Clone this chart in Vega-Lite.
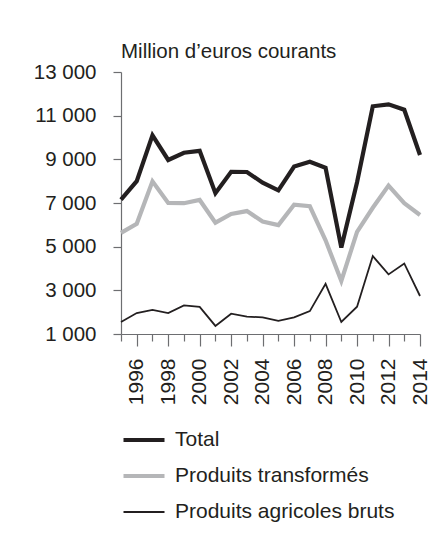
{
  "$schema": "https://vega.github.io/schema/vega-lite/v6.json",
  "autosize": "none",
  "width": 299,
  "height": 262,
  "padding": {"left": 121, "top": 72, "right": 21, "bottom": 205},
  "background": "white",
  "title": {
    "text": "Million d’euros courants",
    "anchor": "start",
    "frame": "group",
    "font": "Liberation Sans",
    "fontSize": 20.5,
    "fontWeight": "normal",
    "color": "#231f20",
    "offset": 0
  },
  "data": {
    "values": [
      {"annee": 1995, "serie": "Produits agricoles bruts", "valeur": 1550},
      {"annee": 1996, "serie": "Produits agricoles bruts", "valeur": 1960},
      {"annee": 1997, "serie": "Produits agricoles bruts", "valeur": 2100},
      {"annee": 1998, "serie": "Produits agricoles bruts", "valeur": 1960},
      {"annee": 1999, "serie": "Produits agricoles bruts", "valeur": 2310},
      {"annee": 2000, "serie": "Produits agricoles bruts", "valeur": 2240},
      {"annee": 2001, "serie": "Produits agricoles bruts", "valeur": 1370},
      {"annee": 2002, "serie": "Produits agricoles bruts", "valeur": 1930},
      {"annee": 2003, "serie": "Produits agricoles bruts", "valeur": 1800},
      {"annee": 2004, "serie": "Produits agricoles bruts", "valeur": 1760},
      {"annee": 2005, "serie": "Produits agricoles bruts", "valeur": 1600},
      {"annee": 2006, "serie": "Produits agricoles bruts", "valeur": 1760},
      {"annee": 2007, "serie": "Produits agricoles bruts", "valeur": 2050},
      {"annee": 2008, "serie": "Produits agricoles bruts", "valeur": 3300},
      {"annee": 2009, "serie": "Produits agricoles bruts", "valeur": 1550},
      {"annee": 2010, "serie": "Produits agricoles bruts", "valeur": 2250},
      {"annee": 2011, "serie": "Produits agricoles bruts", "valeur": 4570},
      {"annee": 2012, "serie": "Produits agricoles bruts", "valeur": 3730},
      {"annee": 2013, "serie": "Produits agricoles bruts", "valeur": 4230},
      {"annee": 2014, "serie": "Produits agricoles bruts", "valeur": 2740},
      {"annee": 1995, "serie": "Produits transformés", "valeur": 5630},
      {"annee": 1996, "serie": "Produits transformés", "valeur": 6050},
      {"annee": 1997, "serie": "Produits transformés", "valeur": 7990},
      {"annee": 1998, "serie": "Produits transformés", "valeur": 7000},
      {"annee": 1999, "serie": "Produits transformés", "valeur": 6990},
      {"annee": 2000, "serie": "Produits transformés", "valeur": 7140},
      {"annee": 2001, "serie": "Produits transformés", "valeur": 6100},
      {"annee": 2002, "serie": "Produits transformés", "valeur": 6500},
      {"annee": 2003, "serie": "Produits transformés", "valeur": 6630},
      {"annee": 2004, "serie": "Produits transformés", "valeur": 6150},
      {"annee": 2005, "serie": "Produits transformés", "valeur": 5990},
      {"annee": 2006, "serie": "Produits transformés", "valeur": 6920},
      {"annee": 2007, "serie": "Produits transformés", "valeur": 6850},
      {"annee": 2008, "serie": "Produits transformés", "valeur": 5290},
      {"annee": 2009, "serie": "Produits transformés", "valeur": 3430},
      {"annee": 2010, "serie": "Produits transformés", "valeur": 5680},
      {"annee": 2011, "serie": "Produits transformés", "valeur": 6780},
      {"annee": 2012, "serie": "Produits transformés", "valeur": 7800},
      {"annee": 2013, "serie": "Produits transformés", "valeur": 6990},
      {"annee": 2014, "serie": "Produits transformés", "valeur": 6450},
      {"annee": 1995, "serie": "Total", "valeur": 7150},
      {"annee": 1996, "serie": "Total", "valeur": 8000},
      {"annee": 1997, "serie": "Total", "valeur": 10100},
      {"annee": 1998, "serie": "Total", "valeur": 8970},
      {"annee": 1999, "serie": "Total", "valeur": 9300},
      {"annee": 2000, "serie": "Total", "valeur": 9390},
      {"annee": 2001, "serie": "Total", "valeur": 7450},
      {"annee": 2002, "serie": "Total", "valeur": 8430},
      {"annee": 2003, "serie": "Total", "valeur": 8420},
      {"annee": 2004, "serie": "Total", "valeur": 7930},
      {"annee": 2005, "serie": "Total", "valeur": 7580},
      {"annee": 2006, "serie": "Total", "valeur": 8670},
      {"annee": 2007, "serie": "Total", "valeur": 8890},
      {"annee": 2008, "serie": "Total", "valeur": 8610},
      {"annee": 2009, "serie": "Total", "valeur": 4960},
      {"annee": 2010, "serie": "Total", "valeur": 7950},
      {"annee": 2011, "serie": "Total", "valeur": 11430},
      {"annee": 2012, "serie": "Total", "valeur": 11520},
      {"annee": 2013, "serie": "Total", "valeur": 11270},
      {"annee": 2014, "serie": "Total", "valeur": 9200}
    ]
  },
  "mark": {"type": "line", "strokeJoin": "miter", "clip": false},
  "encoding": {
    "x": {
      "field": "annee",
      "type": "quantitative",
      "scale": {"domain": [1995, 2014], "nice": false, "zero": false},
      "axis": {
        "title": null,
        "values": [1995,1996,1997,1998,1999,2000,2001,2002,2003,2004,2005,2006,2007,2008,2009,2010,2011,2012,2013,2014],
        "labelExpr": "datum.value % 2 == 0 ? '' + datum.value : ''",
        "labelAngle": -90,
        "labelAlign": "right",
        "labelBaseline": "middle",
        "labelFont": "Liberation Sans",
        "labelFontSize": 21,
        "labelColor": "#231f20",
        "labelPadding": 12,
        "labelOverlap": false,
        "labelBound": false,
        "labelFlush": false,
        "tickSize": {"condition": {"test": "datum.value % 2 == 0", "value": 12}, "value": 7},
        "tickColor": "#6d6e71",
        "tickWidth": 1.2,
        "domainColor": "#6d6e71",
        "domainWidth": 1.2,
        "grid": false
      }
    },
    "y": {
      "field": "valeur",
      "type": "quantitative",
      "scale": {"domain": [1000, 13000], "nice": false, "zero": false},
      "axis": {
        "title": null,
        "values": [1000, 3000, 5000, 7000, 9000, 11000, 13000],
        "labelExpr": "replace(format(datum.value, ','), ',', ' ')",
        "labelFont": "Liberation Sans",
        "labelFontSize": 20.5,
        "labelColor": "#231f20",
        "labelPadding": 17,
        "tickSize": 8,
        "tickColor": "#6d6e71",
        "tickWidth": 1.2,
        "domainColor": "#6d6e71",
        "domainWidth": 1.2,
        "grid": false
      }
    },
    "color": {
      "field": "serie",
      "type": "nominal",
      "scale": {
        "domain": ["Total", "Produits transformés", "Produits agricoles bruts"],
        "range": ["#231f20", "#b5b6b8", "#231f20"]
      },
      "legend": {
        "title": null,
        "orient": "bottom",
        "direction": "vertical",
        "offset": 24,
        "symbolType": "stroke",
        "symbolSize": 1681,
        "clipHeight": 22,
        "labelFont": "Liberation Sans",
        "labelFontSize": 21,
        "labelColor": "#231f20",
        "labelOffset": 8,
        "labelLimit": 400,
        "rowPadding": 14,
        "padding": 0
      }
    },
    "strokeWidth": {
      "field": "serie",
      "type": "ordinal",
      "scale": {
        "type": "ordinal",
        "domain": ["Total", "Produits transformés", "Produits agricoles bruts"],
        "range": [4.2, 4.2, 1.8]
      },
      "legend": {
        "title": null,
        "orient": "bottom",
        "direction": "vertical",
        "offset": 24,
        "symbolType": "stroke",
        "symbolSize": 1681,
        "clipHeight": 22,
        "labelFont": "Liberation Sans",
        "labelFontSize": 21,
        "labelColor": "#231f20",
        "labelOffset": 8,
        "labelLimit": 400,
        "rowPadding": 14,
        "padding": 0
      }
    }
  },
  "config": {
    "view": {"stroke": null}
  }
}
